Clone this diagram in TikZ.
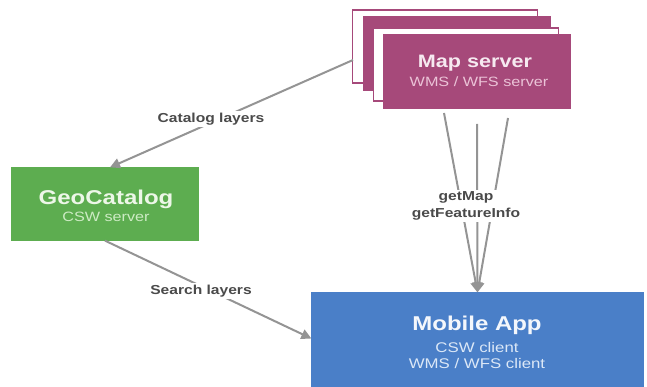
\documentclass[tikz,border=0pt]{standalone}
\usepackage{fontspec}
\setmainfont{Liberation Sans}
\newfontfamily\wsans[FakeStretch=1.2]{Liberation Sans}
\usetikzlibrary{arrows.meta}
\definecolor{mag}{HTML}{A6497A}
\definecolor{grn}{HTML}{5DAD50}
\definecolor{blu}{HTML}{4A7FC8}
\definecolor{arrgray}{HTML}{949494}
\definecolor{lblgray}{HTML}{4A4A4A}
\definecolor{magtxt}{HTML}{F6E9F0}
\definecolor{magsub}{HTML}{EBC3D7}
\definecolor{grntxt}{HTML}{EDF7E8}
\definecolor{grnsub}{HTML}{CDEBC4}
\definecolor{blutxt}{HTML}{F4F7FC}
\definecolor{blusub}{HTML}{DCE8F7}
\begin{document}
\begin{tikzpicture}[x=1pt,y=-1pt,
  boxshape/.style={rectangle, inner sep=0pt, line width=1.3pt},
  magbox/.style={boxshape, fill=mag, draw=mag, minimum width=186pt, minimum height=73pt},
  whitebox/.style={boxshape, fill=white, draw=mag, minimum width=185pt, minimum height=73pt},
  ttl/.style={font=\wsans\bfseries\fontsize{18}{20}\selectfont, inner sep=0pt, anchor=base},
  sub/.style={font=\wsans\fontsize{13.5}{15}\selectfont, inner sep=0pt, anchor=base},
  lbl/.style={font=\wsans\bfseries\fontsize{13}{17}\selectfont, text=lblgray, fill=white, inner sep=1.5pt, align=center},
  arr/.style={draw=arrgray, line width=2pt, -{Triangle[length=10pt,width=10pt]}},
  ln/.style={draw=arrgray, line width=2pt}
]
\useasboundingbox (0,0) rectangle (647,387);

% map server stack
\node[whitebox] (box1) at (445,46.5) {};
\node[magbox]   (box2) at (457,53.5) {};
\node[whitebox] (box3) at (466,64.5) {};
\node[magbox]   (map)  at (477,71.5) {};
\node[ttl, text=magtxt] (maptitle) at (475,68) {Map server};
\node[sub, text=magsub] (mapsub) at (479,87) {WMS / WFS server};

% GeoCatalog
\node[boxshape, fill=grn, draw=grn, minimum width=186pt, minimum height=72pt] (geo) at (105,204) {};
\node[ttl, text=grntxt, font=\wsans\bfseries\fontsize{20}{22}\selectfont] (geotitle) at (106,205) {GeoCatalog};
\node[sub, text=grnsub] (geosub) at (106,222) {CSW server};

% Mobile App
\node[boxshape, fill=blu, draw=blu, minimum width=331pt, minimum height=107pt] (mobile) at (477.5,346.5) {};
\node[ttl, text=blutxt, font=\wsans\bfseries\fontsize{20}{22}\selectfont] (mobtitle) at (477,330) {Mobile App};
\node[sub, text=blusub, font=\wsans\fontsize{14}{16}\selectfont] (mobsub1) at (477,352) {CSW client};
\node[sub, text=blusub, font=\wsans\fontsize{14}{16}\selectfont] (mobsub2) at (477,368) {WMS / WFS client};

% connectors
\coordinate (cstart) at (353,60);
\draw[arr] (cstart) -- ([xshift=5pt]geo.north);
\draw[arr] (geo.south) -- ([yshift=8pt]mobile.west);

\coordinate (s1) at (444,113);
\coordinate (s2) at (477,124);
\coordinate (s3) at (508,118);
\draw[arr] (s1) -- (mobile.north);
\draw[arr] (s2) -- (mobile.north);
\draw[arr] (s3) -- (mobile.north);

% labels
\node[lbl] (catlbl) at (211,119) {Catalog layers};
\node[lbl] (searchlbl) at (201,291) {Search layers};
\node[lbl] (getlbl) at (466,206) {getMap\\getFeatureInfo};
\end{tikzpicture}
\end{document}
